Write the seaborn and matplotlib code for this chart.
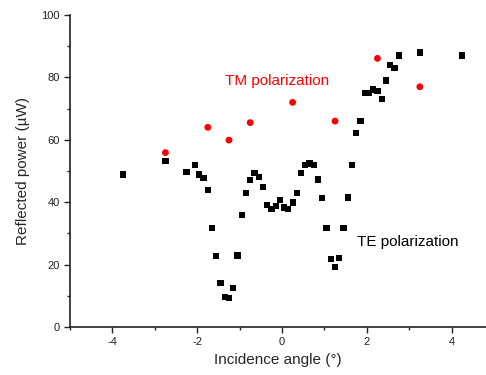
import numpy as np
import pandas as pd
import seaborn as sns
import matplotlib
matplotlib.use("Agg")
import matplotlib.pyplot as plt
from matplotlib.ticker import MultipleLocator

# TE polarization (black squares)
te_angle = [-3.75, -2.75, -2.25, -2.05, -1.95, -1.85, -1.75, -1.65, -1.55, -1.45,
            -1.35, -1.25, -1.15, -1.05, -0.95, -0.85, -0.75, -0.65, -0.55, -0.45,
            -0.35, -0.25, -0.15, -0.05, 0.05, 0.15, 0.25, 0.35, 0.45, 0.55,
            0.65, 0.75, 0.85, 0.95, 1.05, 1.15, 1.25, 1.35, 1.45, 1.55,
            1.65, 1.75, 1.85, 1.95, 2.05, 2.15, 2.25, 2.35, 2.45, 2.55,
            2.65, 2.75, 3.25, 4.25]
te_power = [48.9, 53.3, 49.8, 52.0, 48.9, 47.8, 43.8, 31.8, 22.7, 14.2,
            9.6, 9.3, 12.6, 22.9, 35.8, 42.9, 47.1, 49.4, 48.1, 44.9,
            39.0, 37.8, 38.8, 40.8, 38.3, 37.8, 39.9, 42.9, 49.4, 52.0,
            52.4, 52.0, 47.3, 41.4, 31.8, 21.8, 19.3, 22.0, 31.8, 41.5,
            52.0, 62.3, 65.9, 75.0, 75.0, 76.1, 75.6, 73.0, 79.0, 84.0,
            83.1, 87.0, 88.0, 87.0]

# TM polarization (red circles)
tm_angle = [-2.75, -1.75, -1.25, -0.75, 0.25, 1.25, 2.25, 3.25]
tm_power = [55.9, 64.0, 59.9, 65.5, 72.0, 66.0, 86.1, 77.0]

te = pd.DataFrame({"angle": te_angle, "power": te_power})
tm = pd.DataFrame({"angle": tm_angle, "power": tm_power})

sns.set_style("ticks")
plt.rcParams["font.family"] = ["Liberation Sans", "DejaVu Sans"]
plt.rcParams["axes.unicode_minus"] = False

fig = plt.figure(figsize=(4.86, 3.75), dpi=100)
ax = fig.add_axes([0.144, 0.128, 0.856, 0.832])

sns.scatterplot(data=te, x="angle", y="power", ax=ax, marker="s", s=20,
                color="black", edgecolor="none", linewidth=0)
sns.scatterplot(data=tm, x="angle", y="power", ax=ax, marker="o", s=24,
                color="red", edgecolor="none", linewidth=0)

ax.set_xlim(-5, 4.81)
ax.set_ylim(0, 100)
ax.xaxis.set_major_locator(MultipleLocator(2))
ax.xaxis.set_minor_locator(MultipleLocator(1))
ax.yaxis.set_major_locator(MultipleLocator(20))
ax.yaxis.set_minor_locator(MultipleLocator(10))
ax.tick_params(which="major", direction="out", length=4, width=1, labelsize=8, colors="#222222")
ax.tick_params(which="minor", direction="out", length=2.5, width=1)

sns.despine(ax=ax)
for sp in ["left", "bottom"]:
    ax.spines[sp].set_linewidth(1.2)
    ax.spines[sp].set_color("#222222")

ax.set_xlabel("Incidence angle (°)", fontsize=11, labelpad=4)
ax.set_ylabel("Reflected power (µW)", fontsize=11, labelpad=8)

ax.text(-1.35, 79, "TM polarization", color="red", fontsize=11, va="center", ha="left")
ax.text(1.77, 27.3, "TE polarization", color="black", fontsize=11, va="center", ha="left")

fig.savefig("out.png", dpi=100)
